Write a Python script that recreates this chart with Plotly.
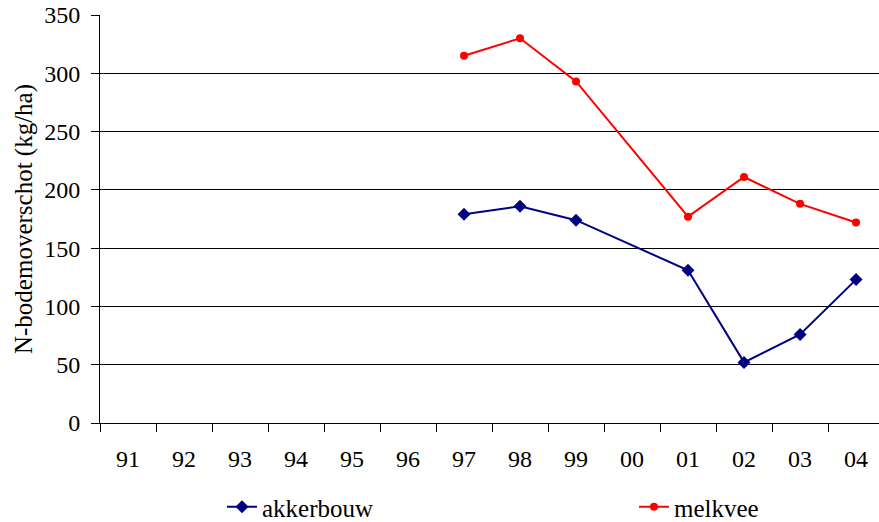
import plotly.graph_objects as go

years = ["91", "92", "93", "94", "95", "96", "97", "98", "99", "00", "01", "02", "03", "04"]
akkerbouw = [None, None, None, None, None, None, 179, 186, 174, None, 131, 52, 76, 123]
melkvee = [None, None, None, None, None, None, 315, 330, 293, None, 177, 211, 188, 172]

FONT = "Liberation Serif"

fig = go.Figure()
fig.add_trace(go.Scatter(
    x=years, y=akkerbouw, name="akkerbouw", mode="lines+markers",
    connectgaps=True, legend="legend",
    line=dict(color="#000080", width=2),
    marker=dict(symbol="diamond", size=10, color="#000080"),
))
fig.add_trace(go.Scatter(
    x=years, y=melkvee, name="melkvee", mode="lines+markers",
    connectgaps=True, legend="legend2",
    line=dict(color="#FF0000", width=2),
    marker=dict(symbol="circle", size=8, color="#FF0000"),
))

leg_common = dict(
    orientation="h", xref="container", yref="container",
    xanchor="left", y=(522 - 507) / 522, yanchor="middle",
    font=dict(family=FONT, size=25, color="black"),
    bgcolor="rgba(0,0,0,0)",
)

fig.update_layout(
    width=879, height=522,
    margin=dict(l=100, r=0, t=15, b=99, autoexpand=False),
    paper_bgcolor="white", plot_bgcolor="white",
    font=dict(family=FONT, size=24, color="black"),
    showlegend=True,
    legend=dict(x=222/879, **leg_common),
    legend2=dict(x=634/879, **leg_common),
    xaxis=dict(
        type="category", categoryorder="array", categoryarray=years,
        range=[-0.5, 13.41],
        showgrid=False, showline=True, linecolor="black", linewidth=1,
        ticks="outside", tickson="boundaries", ticklen=8, tickcolor="black",
        tickfont=dict(family=FONT, size=24, color="black"),
        ticklabelstandoff=14,
        zeroline=False,
    ),
    yaxis=dict(
        range=[0, 350], dtick=50, tick0=0,
        showgrid=True, gridcolor="black", gridwidth=1,
        showline=True, linecolor="black", linewidth=1,
        ticks="outside", ticklen=8, tickcolor="black",
        tickfont=dict(family=FONT, size=24, color="black"),
        ticklabelstandoff=6,
        zeroline=False,
        title=dict(text="N-bodemoverschot (kg/ha)", standoff=4,
                   font=dict(family=FONT, size=25, color="black")),
    ),
)

fig.write_html("out.html")
